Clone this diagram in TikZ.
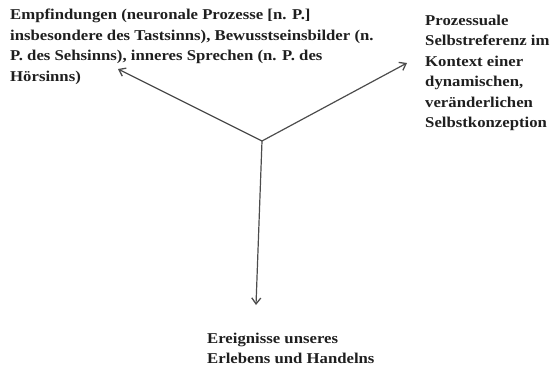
\documentclass[tikz,border=0pt]{standalone}
\usepackage{fontspec}
\setmainfont[FakeStretch=1.115]{Liberation Serif}
\usetikzlibrary{arrows.meta}
\begin{document}
\begin{tikzpicture}[x=1pt,y=-1pt,
  lbl/.style={font=\bfseries\fontsize{15}{20.5}\selectfont, align=left, inner sep=0pt, anchor=north west, text=black!88},
  conn/.style={draw=black!70, line width=1.2pt, -{Straight Barb[length=6pt,width=9pt,line width=1.3pt]}}]
\useasboundingbox (0,0) rectangle (550,367);
\node[lbl] (L) at (10,9) {Empfindungen (neuronale Prozesse [n. P.]\\insbesondere des Tastsinns), Bewusstseinsbilder (n.\\P. des Sehsinns), inneres Sprechen (n. P. des\\Hörsinns)};
\node[lbl] (R) at (425,14.6) {Prozessuale\\Selbstreferenz im\\Kontext einer\\dynamischen,\\veränderlichen\\Selbstkonzeption};
\node[lbl] (B) at (207,332.4) {Ereignisse unseres\\Erlebens und Handelns};
\coordinate (C) at (262,141);
\coordinate (tl) at (118,69);
\coordinate (tr) at (407,63);
\coordinate (tb) at (256,305);
\draw[conn] (C) -- (tl);
\draw[conn] (C) -- (tr);
\draw[conn] (C) -- (tb);
\end{tikzpicture}
\end{document}
